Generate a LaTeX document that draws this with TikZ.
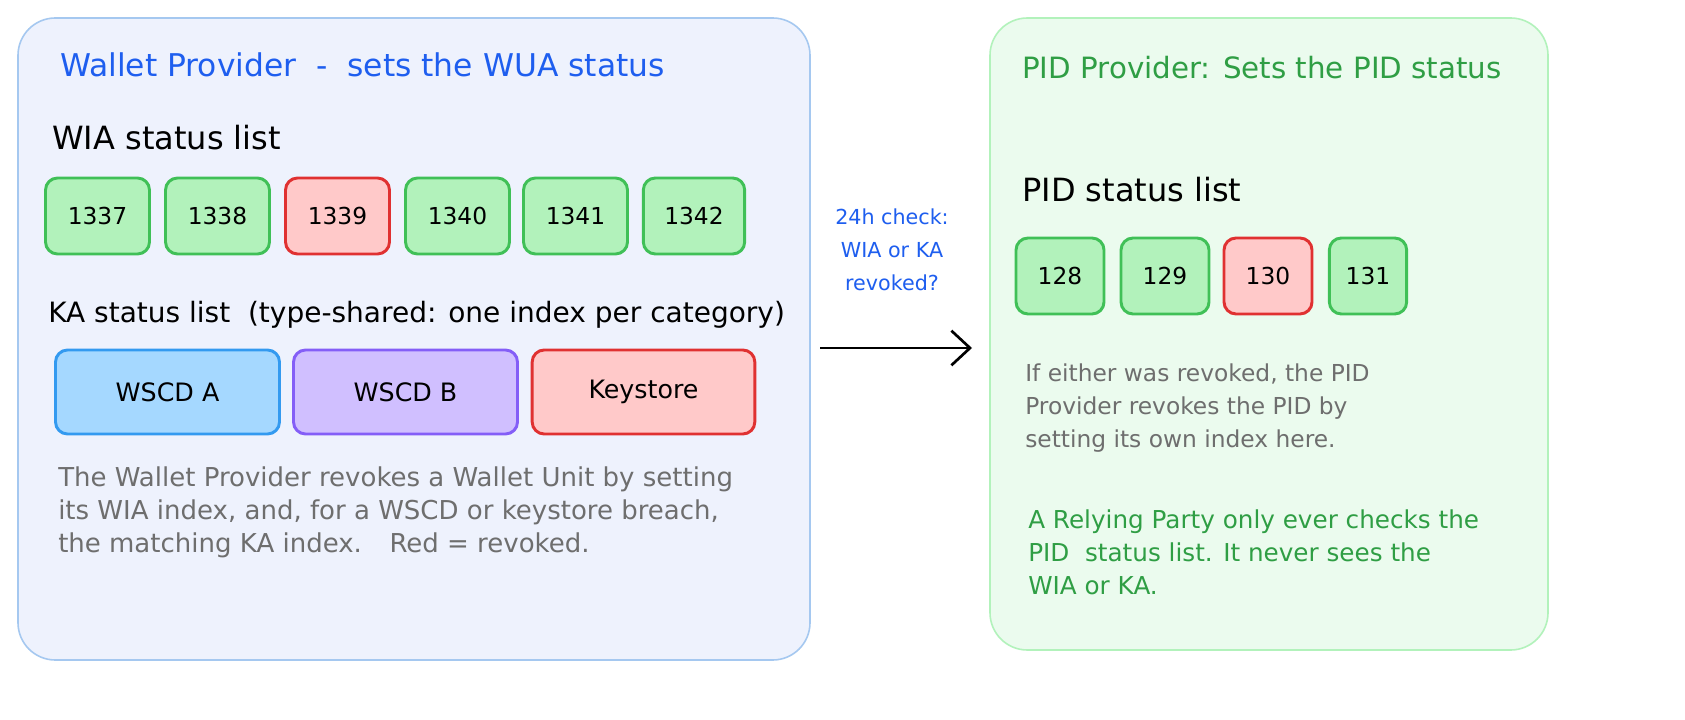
\documentclass[tikz,border=0pt]{standalone}
\usepackage{fontspec}
\setmainfont{DejaVu Sans}
\usetikzlibrary{arrows.meta}
\definecolor{bluebg}{HTML}{EEF2FD}
\definecolor{blueln}{HTML}{A5C8F0}
\definecolor{greenbg}{HTML}{EBFBEE}
\definecolor{greenln}{HTML}{B2F2BB}
\definecolor{gfill}{HTML}{B2F2BB}
\definecolor{gline}{HTML}{40C057}
\definecolor{rfill}{HTML}{FFC9C9}
\definecolor{rline}{HTML}{E03131}
\definecolor{bfill}{HTML}{A5D8FF}
\definecolor{bline}{HTML}{339AF0}
\definecolor{pfill}{HTML}{D0BFFF}
\definecolor{pline}{HTML}{845EF7}
\definecolor{titleblue}{HTML}{1E5EEF}
\definecolor{titlegreen}{HTML}{2F9E44}
\definecolor{graytext}{HTML}{6E6E6E}
\tikzset{
  panel/.style={rounded corners=28pt, line width=1.2pt},
  cell/.style={draw, rounded corners=9pt, line width=2.2pt, minimum height=57pt, inner sep=0pt, font=\fontsize{17.5}{20}\selectfont},
  okcell/.style={cell, fill=gfill, draw=gline},
  badcell/.style={cell, fill=rfill, draw=rline},
  heading/.style={anchor=west, inner sep=0pt, font=\fontsize{21}{24}\selectfont},
  body/.style={anchor=north west, inner sep=0pt, align=left, font=\fontsize{17.5}{24.75}\selectfont},
}
\begin{document}
\begin{tikzpicture}[x=0.75pt,y=-0.75pt]
\useasboundingbox (0,0) rectangle (1685,720);
\clip (0,0) rectangle (1685,720);
\fill[white] (0,0) rectangle (1685,720);
\draw[panel, fill=bluebg, draw=blueln] (18,18) rectangle (810,660);
\draw[panel, fill=greenbg, draw=greenln] (990,18) rectangle (1548,650);

\node[heading, text=titleblue, font=\fontsize{23.5}{26}\selectfont] (t1) at (60,65) {Wallet Provider \ - \ sets the WUA status};
\node[heading, font=\fontsize{24}{26}\selectfont] (wia) at (52,138) {WIA status list};
\node[okcell, minimum width=78pt] (c1) at (97.5,216) {1337};
\node[okcell, minimum width=78pt] (c2) at (217.5,216) {1338};
\node[badcell, minimum width=78pt] (c3) at (337.5,216) {1339};
\node[okcell, minimum width=78pt] (c4) at (457.5,216) {1340};
\node[okcell, minimum width=78pt] (c5) at (575.5,216) {1341};
\node[okcell, minimum width=76pt] (c6) at (694,216) {1342};
\node[heading] (ka) at (48,315) {KA status list \ (type-shared: one index per category)};
\node[cell, fill=bfill, draw=bline, minimum width=168pt, minimum height=63pt, font=\fontsize{19}{22}\selectfont] (k1) at (167.5,392) {WSCD A};
\node[cell, fill=pfill, draw=pline, minimum width=168pt, minimum height=63pt, font=\fontsize{19}{22}\selectfont] (k2) at (405.5,392) {WSCD B};
\node[badcell, minimum width=167pt, minimum height=63pt, font=\fontsize{19}{22}\selectfont] (k3) at (643.5,392) {Keystore};
\node[body, text=graytext, font=\fontsize{19.5}{24.75}\selectfont] (g1) at (58,466) {The Wallet Provider revokes a Wallet Unit by setting\\its WIA index, and, for a WSCD or keystore breach,\\the matching KA index. \ \ Red = revoked.};

\coordinate (a0) at (820,348);
\coordinate (a1) at (972,348);
\draw[line width=2pt, -{Straight Barb[length=14pt,width=26pt,line width=2pt]}] (a0) -- (a1);
\node[align=center, text=titleblue, font=\fontsize{15.5}{24.75}\selectfont] (lab) at (892,250) {24h check:\\WIA or KA\\revoked?};

\node[heading, text=titlegreen, font=\fontsize{22}{24}\selectfont] (t2) at (1022,68) {PID Provider: Sets the PID status};
\node[heading, font=\fontsize{24}{26}\selectfont] (pid) at (1022,190) {PID status list};
\node[okcell, minimum width=66pt] (p1) at (1060,276) {128};
\node[okcell, minimum width=66pt] (p2) at (1165,276) {129};
\node[badcell, minimum width=66pt] (p3) at (1268,276) {130};
\node[okcell, minimum width=58pt] (p4) at (1368,276) {131};
\node[body, text=graytext] (g2) at (1025,364) {If either was revoked, the PID\\Provider revokes the PID by\\setting its own index here.};
\node[body, text=titlegreen, font=\fontsize{18.5}{24.75}\selectfont] (g3) at (1028,509) {A Relying Party only ever checks the\\PID \ status list. It never sees the\\WIA or KA.};
\end{tikzpicture}
\end{document}
